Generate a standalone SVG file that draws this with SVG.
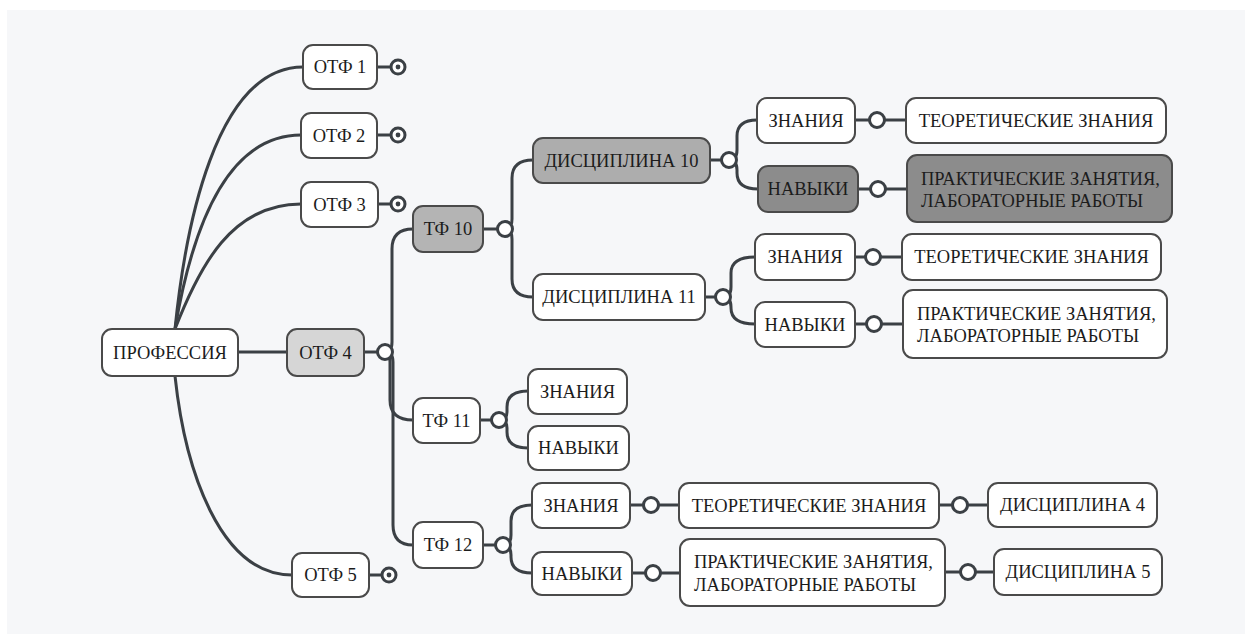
<svg xmlns="http://www.w3.org/2000/svg" width="1245" height="634" viewBox="0 0 1245 634">
<defs>
<style>
.bx{stroke:#4a4a4a;stroke-width:2;fill:#ffffff}
.l1{fill:#d6d6d6}
.l2{fill:#b4b4b4}
.l3{fill:#adadad}
.l4{fill:#8c8c8c}
.t{font-family:"Liberation Serif","Times New Roman",serif;font-size:18.5px;fill:#1c1c1c}
.c{text-anchor:middle}
.cn{fill:none;stroke:#3b4045;stroke-width:3;stroke-linecap:round}
.jn{fill:#ffffff;stroke:#3b4045;stroke-width:3}
.rg{fill:#ffffff;stroke:#3b4045;stroke-width:3}
.dot{fill:#3b4045}
</style>
</defs>
<rect x="0" y="0" width="1245" height="634" fill="#ffffff"/>
<rect x="7" y="10" width="1238" height="624" fill="#f6f7f9"/>

<g id="connectors">
<path class="cn" d="M175,329 C185,230 215,67 303,67"/>
<path class="cn" d="M175,329 C190,240 222,135 301,135"/>
<path class="cn" d="M175,329 C200,265 232,204 301,204"/>
<path class="cn" d="M175,376 C185,470 220,575 292,575"/>
<path class="cn" d="M238,352 L287,352"/>
<path class="cn" d="M377,67 L397,67"/>
<path class="cn" d="M377,135 L397,135"/>
<path class="cn" d="M378,204 L397,204"/>
<path class="cn" d="M369,575 L388,575"/>
<path class="cn" d="M364,352 L385,352"/>
<path class="cn" d="M385,352 Q392,352 392,342 L392,249 Q392,229 413,229"/>
<path class="cn" d="M385,352 Q390,352 390,362 L390,400 Q390,420 413,420"/>
<path class="cn" d="M385,352 Q393,352 393,362 L393,525 Q393,545 413,545"/>
<path class="cn" d="M483,229 L505,229"/>
<path class="cn" d="M505,229 Q512,229 512,219 L512,178 Q512,160 533,160"/>
<path class="cn" d="M505,229 Q512,229 512,239 L512,279 Q512,297 533,297"/>
<path class="cn" d="M710,160 L729,160"/>
<path class="cn" d="M729,160 Q737,160 737,150 L737,136 Q737,120 757,120"/>
<path class="cn" d="M729,160 Q737,160 737,170 L737,173 Q737,189 758,189"/>
<path class="cn" d="M855,120 L906,120"/>
<path class="cn" d="M858,189 L907,189"/>
<path class="cn" d="M705,297 L723,297"/>
<path class="cn" d="M723,297 Q731,297 731,287 L731,273 Q731,257 755,257"/>
<path class="cn" d="M723,297 Q731,297 731,307 L731,308 Q731,324 755,324"/>
<path class="cn" d="M855,257 L902,257"/>
<path class="cn" d="M855,324 L903,324"/>
<path class="cn" d="M480,420 L499,420"/>
<path class="cn" d="M499,420 Q507,420 507,412 L507,407 Q507,391 528,391"/>
<path class="cn" d="M499,420 Q507,420 507,428 L507,432 Q507,448 528,448"/>
<path class="cn" d="M483,545 L503,545"/>
<path class="cn" d="M503,545 Q511,545 511,535 L511,521 Q511,505 532,505"/>
<path class="cn" d="M503,545 Q511,545 511,555 L511,557 Q511,573 532,573"/>
<path class="cn" d="M630,505 L679,505"/>
<path class="cn" d="M939,505 L988,505"/>
<path class="cn" d="M632,573 L680,573"/>
<path class="cn" d="M945,572 L994,572"/>
<circle class="jn" cx="385" cy="352" r="7.5"/>
<circle class="jn" cx="505" cy="229" r="7.5"/>
<circle class="jn" cx="729" cy="160" r="7.5"/>
<circle class="jn" cx="723" cy="297" r="7.5"/>
<circle class="jn" cx="877" cy="120" r="7.5"/>
<circle class="jn" cx="878" cy="189" r="7.5"/>
<circle class="jn" cx="873" cy="257" r="7.5"/>
<circle class="jn" cx="874" cy="324" r="7.5"/>
<circle class="jn" cx="499" cy="420" r="7.5"/>
<circle class="jn" cx="503" cy="545" r="7.5"/>
<circle class="jn" cx="651" cy="505" r="7.5"/>
<circle class="jn" cx="960" cy="505" r="7.5"/>
<circle class="jn" cx="653" cy="573" r="7.5"/>
<circle class="jn" cx="968" cy="572" r="7.5"/>
<circle class="rg" cx="398" cy="67" r="7"/><circle class="dot" cx="398" cy="67" r="2.4"/>
<circle class="rg" cx="398" cy="135" r="7"/><circle class="dot" cx="398" cy="135" r="2.4"/>
<circle class="rg" cx="398" cy="204" r="7"/><circle class="dot" cx="398" cy="204" r="2.4"/>
<circle class="rg" cx="389" cy="575" r="7"/><circle class="dot" cx="389" cy="575" r="2.4"/>
</g>

<g id="prof"><rect class="bx" x="102" y="329" width="136" height="47" rx="10"/><text class="t c" x="170" y="358.5">ПРОФЕССИЯ</text></g>
<g id="otf1"><rect class="bx" x="303" y="45" width="74" height="44" rx="10"/><text class="t c" x="340" y="73">ОТФ 1</text></g>
<g id="otf2"><rect class="bx" x="301" y="113" width="76" height="45" rx="10"/><text class="t c" x="339" y="141.5">ОТФ 2</text></g>
<g id="otf3"><rect class="bx" x="301" y="182" width="77" height="45" rx="10"/><text class="t c" x="339.5" y="210.5">ОТФ 3</text></g>
<g id="otf4"><rect class="bx l1" x="287" y="329" width="77" height="47" rx="10"/><text class="t c" x="325.5" y="358.5">ОТФ 4</text></g>
<g id="otf5"><rect class="bx" x="292" y="553" width="77" height="44" rx="10"/><text class="t c" x="330.5" y="581">ОТФ 5</text></g>
<g id="tf10"><rect class="bx l2" x="413" y="206" width="70" height="46" rx="10"/><text class="t c" x="448" y="235">ТФ 10</text></g>
<g id="tf11"><rect class="bx" x="413" y="398" width="67" height="45" rx="10"/><text class="t c" x="446.5" y="426.5">ТФ 11</text></g>
<g id="tf12"><rect class="bx" x="413" y="522" width="70" height="46" rx="10"/><text class="t c" x="448" y="551">ТФ 12</text></g>
<g id="d10"><rect class="bx l3" x="533" y="138" width="177" height="45" rx="10"/><text class="t c" x="621.5" y="166.5">ДИСЦИПЛИНА 10</text></g>
<g id="d11"><rect class="bx" x="533" y="274" width="172" height="46" rx="10"/><text class="t c" x="619" y="303">ДИСЦИПЛИНА 11</text></g>
<g id="d10z"><rect class="bx" x="757" y="98" width="98" height="45" rx="10"/><text class="t c" x="806" y="126.5">ЗНАНИЯ</text></g>
<g id="d10zt"><rect class="bx" x="906" y="98" width="260" height="45" rx="10"/><text class="t c" x="1036" y="126.5">ТЕОРЕТИЧЕСКИЕ ЗНАНИЯ</text></g>
<g id="d10n"><rect class="bx l4" x="758" y="166" width="100" height="46" rx="10"/><text class="t c" x="808" y="195">НАВЫКИ</text></g>
<g id="d10np"><rect class="bx l4" x="907" y="155" width="265" height="67" rx="10"/><text class="t" x="921" y="184.5">ПРАКТИЧЕСКИЕ ЗАНЯТИЯ,</text><text class="t" x="921" y="207">ЛАБОРАТОРНЫЕ РАБОТЫ</text></g>
<g id="d11z"><rect class="bx" x="755" y="234" width="100" height="46" rx="10"/><text class="t c" x="805" y="263">ЗНАНИЯ</text></g>
<g id="d11zt"><rect class="bx" x="902" y="234" width="259" height="46" rx="10"/><text class="t c" x="1031.5" y="263">ТЕОРЕТИЧЕСКИЕ ЗНАНИЯ</text></g>
<g id="d11n"><rect class="bx" x="755" y="302" width="100" height="45" rx="10"/><text class="t c" x="805" y="330.5">НАВЫКИ</text></g>
<g id="d11np"><rect class="bx" x="903" y="290" width="264" height="68" rx="10"/><text class="t" x="917" y="319.5">ПРАКТИЧЕСКИЕ ЗАНЯТИЯ,</text><text class="t" x="917" y="342">ЛАБОРАТОРНЫЕ РАБОТЫ</text></g>
<g id="tf11z"><rect class="bx" x="528" y="369" width="99" height="45" rx="10"/><text class="t c" x="577.5" y="397.5">ЗНАНИЯ</text></g>
<g id="tf11n"><rect class="bx" x="528" y="426" width="101" height="44" rx="10"/><text class="t c" x="578.5" y="454">НАВЫКИ</text></g>
<g id="tf12z"><rect class="bx" x="532" y="483" width="98" height="45" rx="10"/><text class="t c" x="581" y="511.5">ЗНАНИЯ</text></g>
<g id="tf12n"><rect class="bx" x="532" y="552" width="100" height="43" rx="10"/><text class="t c" x="582" y="579.5">НАВЫКИ</text></g>
<g id="tf12zt"><rect class="bx" x="679" y="483" width="260" height="45" rx="10"/><text class="t c" x="809" y="511.5">ТЕОРЕТИЧЕСКИЕ ЗНАНИЯ</text></g>
<g id="tf12np"><rect class="bx" x="680" y="539" width="265" height="67" rx="10"/><text class="t" x="694" y="568">ПРАКТИЧЕСКИЕ ЗАНЯТИЯ,</text><text class="t" x="694" y="590.5">ЛАБОРАТОРНЫЕ РАБОТЫ</text></g>
<g id="dis4"><rect class="bx" x="988" y="483" width="169" height="44" rx="10"/><text class="t c" x="1072.5" y="511">ДИСЦИПЛИНА 4</text></g>
<g id="dis5"><rect class="bx" x="994" y="549" width="168" height="46" rx="10"/><text class="t c" x="1078" y="578">ДИСЦИПЛИНА 5</text></g>
</svg>
